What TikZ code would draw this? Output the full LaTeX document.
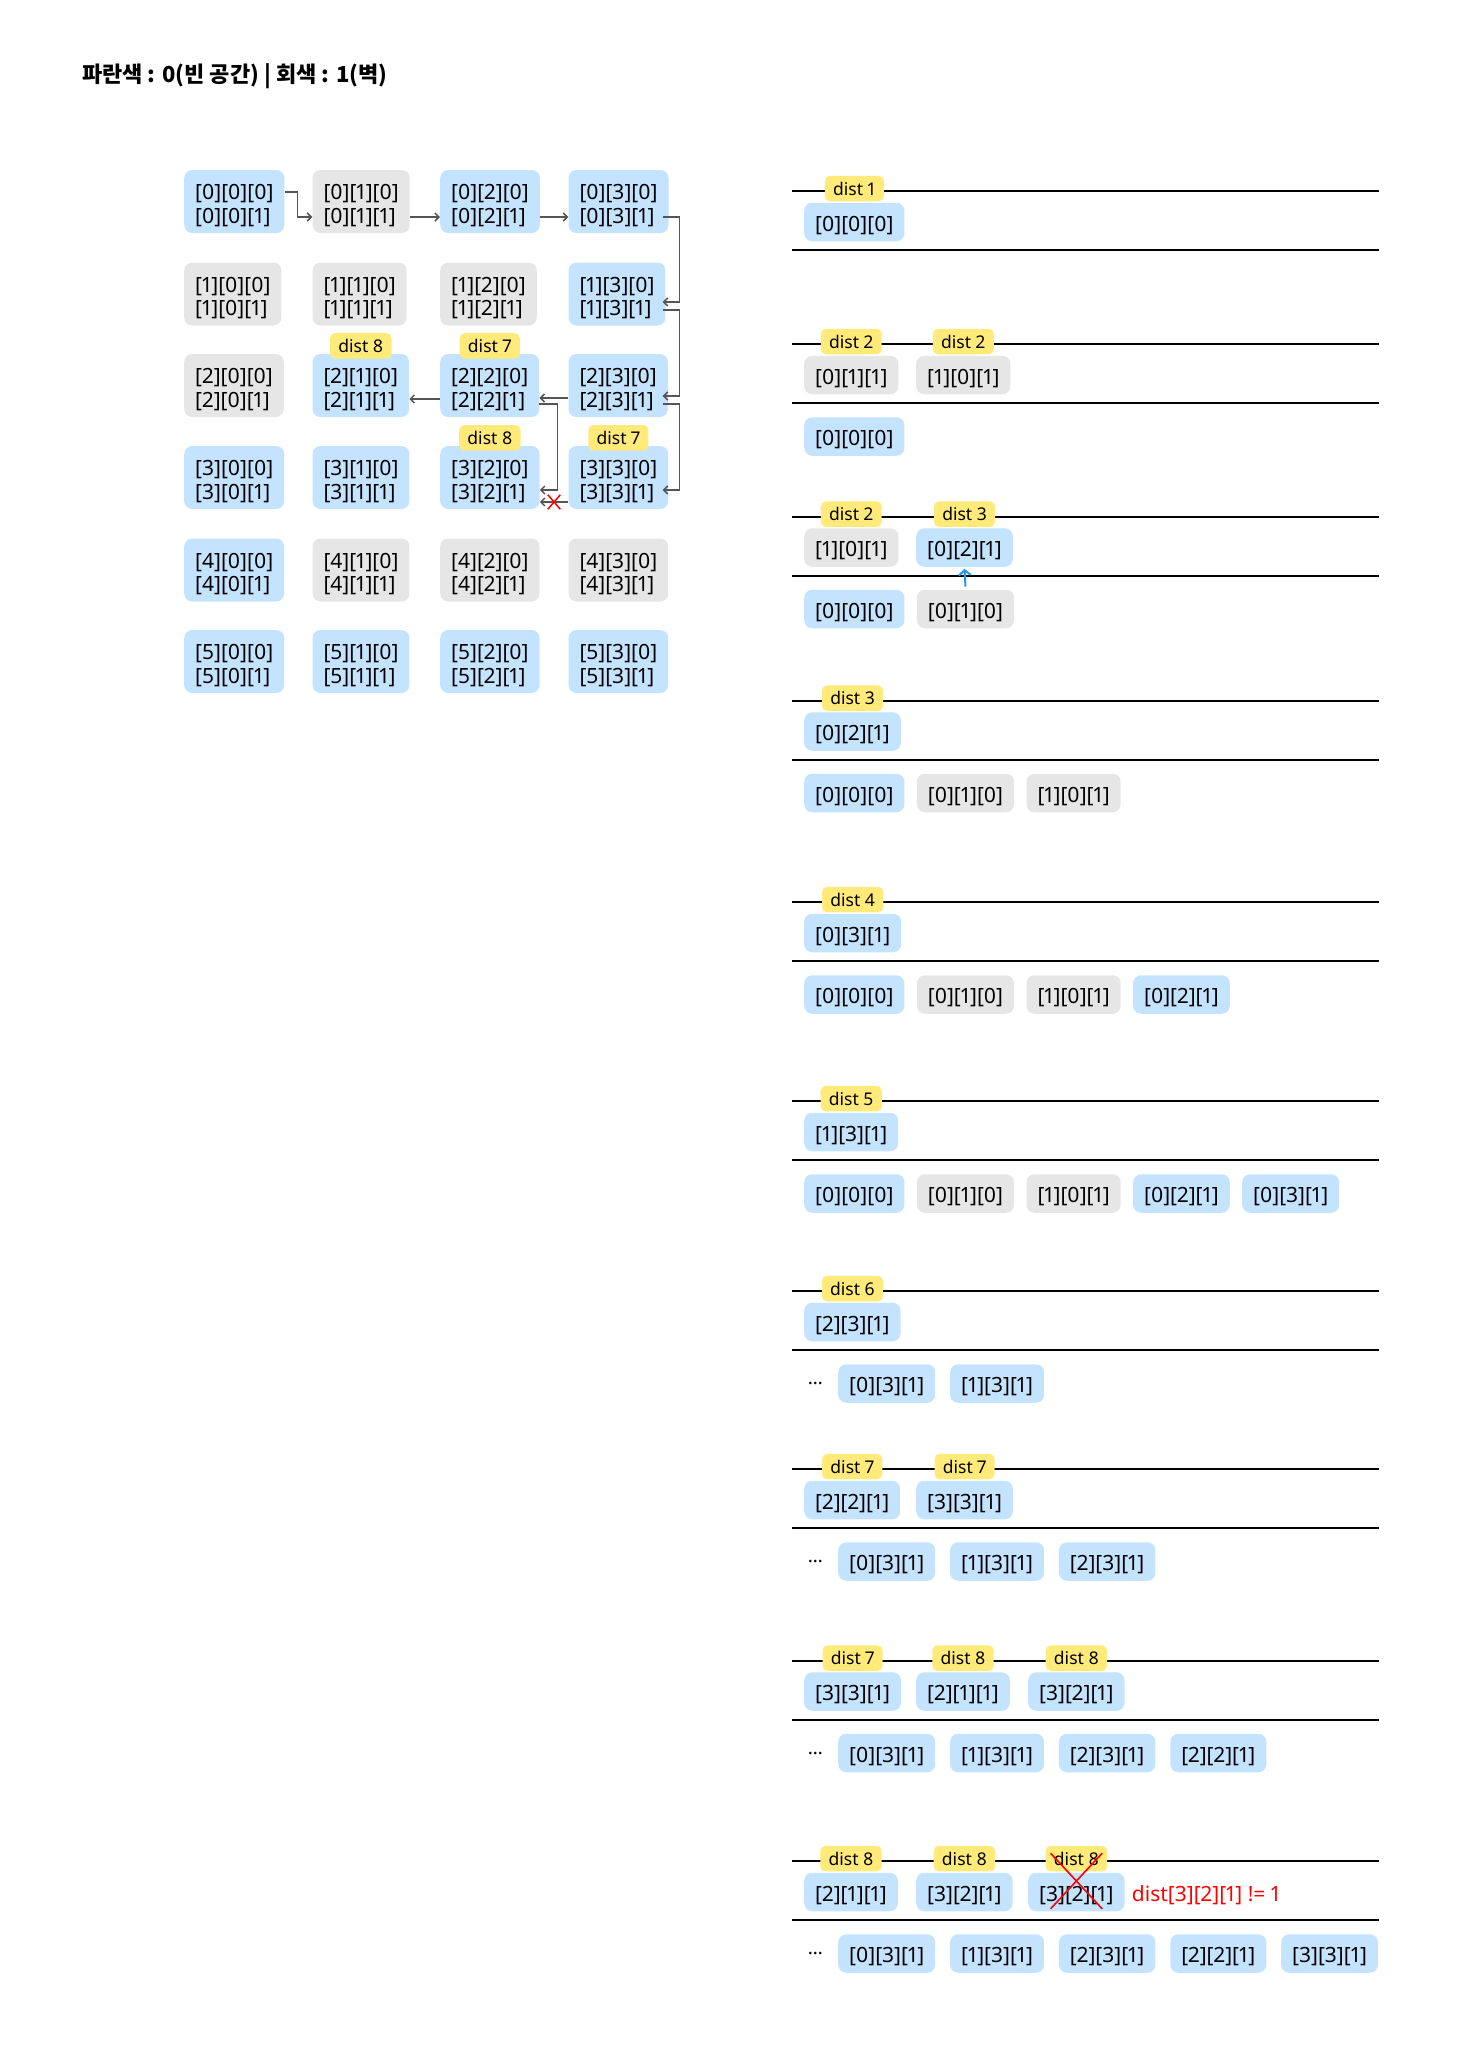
\documentclass[tikz,border=0pt]{standalone}
\usepackage{fontspec}
\setmainfont{Noto Sans}[Numbers=Proportional]
\newfontfamily\krfont{Noto Sans CJK KR}
\usepackage{xcolor}
\definecolor{cblue}{HTML}{C4E3FF}
\definecolor{cgray}{HTML}{E6E6E6}
\definecolor{cyellow}{HTML}{FFEA7A}
\definecolor{cline}{HTML}{555555}
\definecolor{carrow}{HTML}{2196F3}
\usepackage{tikz}
\usetikzlibrary{positioning, arrows.meta, shapes.misc}
\newcommand\cellfont{\fontsize{21}{23.5}\selectfont}
\newcommand\distfont{\fontsize{17.5}{20}\selectfont}
\tikzset{
x=1pt, y=-1pt,
Title/.style={
	anchor=west, inner sep=0pt,
	font=\krfont\bfseries\fontsize{22}{26}\selectfont
},
Cell/.style={
	anchor=west, align=left,
	rounded corners=8pt,
	inner xsep=11pt, inner ysep=0pt,
	minimum height=63pt,
	text height=43.8pt, text depth=0pt,
	font=\cellfont
},
Open/.style={
	Cell,
	fill=cblue
},
Wall/.style={
	Cell,
	fill=cgray
},
Item/.style={
	anchor=west,
	rounded corners=8pt,
	inner xsep=11pt, inner ysep=0pt,
	minimum height=38.5pt,
	text height=18.2pt, text depth=0pt,
	font=\cellfont
},
OpenItem/.style={
	Item,
	fill=cblue
},
WallItem/.style={
	Item,
	fill=cgray
},
Dist/.style={
	rounded corners=5pt,
	fill=cyellow,
	inner xsep=8.3pt, inner ysep=0pt,
	minimum height=25.5pt,
	font=\distfont
},
Dots/.style={
	inner sep=0pt,
	font=\fontsize{19}{20}\selectfont
},
Note/.style={
	inner sep=0pt,
	text height=18.2pt, text depth=0pt,
	text=red,
	font=\cellfont
},
Link/.style={
	draw=cline, line width=1.5pt,
	-{Straight Barb[length=4pt, width=8pt]}
},
Lift/.style={
	draw=carrow, line width=2pt,
	-{Straight Barb[length=5pt, width=12pt]}
},
NoEntry/.style={
	cross out, draw=red, line width=1.5pt,
	minimum width=11pt, minimum height=13pt, inner sep=0pt
},
Rule/.style={
	draw=black, line width=2pt
}
}

\begin{document}
\begin{tikzpicture}
	\useasboundingbox (0,0) rectangle (1470,2070);

	\node[Title] (title) at (82,76) {파란색 : 0(빈 공간) | 회색 : 1(벽)};

	% map, one cell per [row][col], both wall states
	\node[Open] (g00) at (184,201.5) {[0][0][0]\\{}[0][0][1]};
	\node[Wall] (g01) at (312.3,201.5) {[0][1][0]\\{}[0][1][1]};
	\node[Open] (g02) at (440,201.5) {[0][2][0]\\{}[0][2][1]};
	\node[Open] (g03) at (568.3,201.5) {[0][3][0]\\{}[0][3][1]};

	\node[Wall] (g10) at (184,294) {[1][0][0]\\{}[1][0][1]};
	\node[Wall] (g11) at (312.3,294) {[1][1][0]\\{}[1][1][1]};
	\node[Wall] (g12) at (440,294) {[1][2][0]\\{}[1][2][1]};
	\node[Open] (g13) at (568.3,294) {[1][3][0]\\{}[1][3][1]};

	\node[Wall] (g20) at (184,385.5) {[2][0][0]\\{}[2][0][1]};
	\node[Open] (g21) at (312.3,385.5) {[2][1][0]\\{}[2][1][1]};
	\node[Open] (g22) at (440,385.5) {[2][2][0]\\{}[2][2][1]};
	\node[Open] (g23) at (568.3,385.5) {[2][3][0]\\{}[2][3][1]};

	\node[Open] (g30) at (184,477.5) {[3][0][0]\\{}[3][0][1]};
	\node[Open] (g31) at (312.3,477.5) {[3][1][0]\\{}[3][1][1]};
	\node[Open] (g32) at (440,477.5) {[3][2][0]\\{}[3][2][1]};
	\node[Open] (g33) at (568.3,477.5) {[3][3][0]\\{}[3][3][1]};

	\node[Open] (g40) at (184,570) {[4][0][0]\\{}[4][0][1]};
	\node[Wall] (g41) at (312.3,570) {[4][1][0]\\{}[4][1][1]};
	\node[Wall] (g42) at (440,570) {[4][2][0]\\{}[4][2][1]};
	\node[Wall] (g43) at (568.3,570) {[4][3][0]\\{}[4][3][1]};

	\node[Open] (g50) at (184,661.5) {[5][0][0]\\{}[5][0][1]};
	\node[Open] (g51) at (312.3,661.5) {[5][1][0]\\{}[5][1][1]};
	\node[Open] (g52) at (440,661.5) {[5][2][0]\\{}[5][2][1]};
	\node[Open] (g53) at (568.3,661.5) {[5][3][0]\\{}[5][3][1]};

	\node[Dist, above=-5pt of g21] (gd21) {dist 8};
	\node[Dist, above=-5pt of g22] (gd22) {dist 7};
	\node[Dist, above=-5pt of g32] (gd32) {dist 8};
	\node[Dist, above=-5pt of g33] (gd33) {dist 7};

	\coordinate (stub) at ([xshift=-6pt]g03.east);
	\coordinate (rail) at ([xshift=11pt]g03.east);

	\draw[Link] (g00.east |- 0,192) -- ++(13,0) |- (g01.west |- 0,217);
	\draw[Link] (g01.east |- 0,217) -- (g02.west |- 0,217);
	\draw[Link] (g02.east |- 0,217) -- (g03.west |- 0,217);
	\draw[Link] (stub |- 0,217) -| (rail |- 0,260) |- (stub |- 0,302);
	\draw[Link] (stub |- 0,310) -| (rail |- 0,350) |- (stub |- 0,396);
	\draw[Link] (stub |- 0,404) -| (rail |- 0,450) |- (stub |- 0,490);
	\draw[Link] (g23.west |- 0,398) -- (g22.east |- 0,398);
	\draw[Link] (g22.west |- 0,399) -- (g21.east |- 0,399);
	\draw[Link] (g22.east |- 0,404) -- ++(18,0) |- (g32.east |- 0,490);
	\draw[Link] (g33.west |- 0,502) -- node[NoEntry] (blocked) {} (g32.east |- 0,502);

	% queue, step by step
	\draw[Rule] (792,191) -- (1379,191) (792,250) -- (1379,250);
	\node[OpenItem] (cur1a) at (804,222) {[0][0][0]};
	\node[Dist, above=1pt of cur1a] (d1a) {dist 1};

	\draw[Rule] (792,344) -- (1379,344) (792,403) -- (1379,403);
	\node[WallItem] (cur2a) at (804,375) {[0][1][1]};
	\node[WallItem] (cur2b) at (916,375) {[1][0][1]};
	\node[Dist, above=1pt of cur2a] (d2a) {dist 2};
	\node[Dist, above=1pt of cur2b] (d2b) {dist 2};
	\node[OpenItem] (vis2a) at (804,436.5) {[0][0][0]};

	\draw[Rule] (792,516.5) -- (1379,516.5) (792,575.5) -- (1379,575.5);
	\node[WallItem] (cur3a) at (804,547.5) {[1][0][1]};
	\node[OpenItem] (cur3b) at (916,547.5) {[0][2][1]};
	\node[Dist, above=1pt of cur3a] (d3a) {dist 2};
	\node[Dist, above=1pt of cur3b] (d3b) {dist 3};
	\node[OpenItem] (vis3a) at (804,609) {[0][0][0]};
	\node[WallItem, right=12pt of vis3a] (vis3b) {[0][1][0]};
	\draw[Lift] ([yshift=3pt]vis3b.north) -- ([yshift=-2pt]cur3b.south);

	\draw[Rule] (792,700.5) -- (1379,700.5) (792,759.5) -- (1379,759.5);
	\node[OpenItem] (cur4a) at (804,731.5) {[0][2][1]};
	\node[Dist, above=1pt of cur4a] (d4a) {dist 3};
	\node[OpenItem] (vis4a) at (804,793) {[0][0][0]};
	\node[WallItem, right=12pt of vis4a] (vis4b) {[0][1][0]};
	\node[WallItem, right=12pt of vis4b] (vis4c) {[1][0][1]};

	\draw[Rule] (792,902) -- (1379,902) (792,961) -- (1379,961);
	\node[OpenItem] (cur5a) at (804,933) {[0][3][1]};
	\node[Dist, above=1pt of cur5a] (d5a) {dist 4};
	\node[OpenItem] (vis5a) at (804,994.5) {[0][0][0]};
	\node[WallItem, right=12pt of vis5a] (vis5b) {[0][1][0]};
	\node[WallItem, right=12pt of vis5b] (vis5c) {[1][0][1]};
	\node[OpenItem, right=12pt of vis5c] (vis5d) {[0][2][1]};

	\draw[Rule] (792,1101) -- (1379,1101) (792,1160) -- (1379,1160);
	\node[OpenItem] (cur6a) at (804,1132) {[1][3][1]};
	\node[Dist, above=1pt of cur6a] (d6a) {dist 5};
	\node[OpenItem] (vis6a) at (804,1193.5) {[0][0][0]};
	\node[WallItem, right=12pt of vis6a] (vis6b) {[0][1][0]};
	\node[WallItem, right=12pt of vis6b] (vis6c) {[1][0][1]};
	\node[OpenItem, right=12pt of vis6c] (vis6d) {[0][2][1]};
	\node[OpenItem, right=12pt of vis6d] (vis6e) {[0][3][1]};

	\draw[Rule] (792,1291) -- (1379,1291) (792,1350) -- (1379,1350);
	\node[OpenItem] (cur7a) at (804,1322) {[2][3][1]};
	\node[Dist, above=1pt of cur7a] (d7a) {dist 6};
	\node[OpenItem] (vis7a) at (838,1383.5) {[0][3][1]};
	\node[OpenItem, right=14.5pt of vis7a] (vis7b) {[1][3][1]};
	\node[Dots, left=15pt of vis7a] (dots7) {…};

	\draw[Rule] (792,1469) -- (1379,1469) (792,1528) -- (1379,1528);
	\node[OpenItem] (cur8a) at (804,1500) {[2][2][1]};
	\node[OpenItem] (cur8b) at (916,1500) {[3][3][1]};
	\node[Dist, above=1pt of cur8a] (d8a) {dist 7};
	\node[Dist, above=1pt of cur8b] (d8b) {dist 7};
	\node[OpenItem] (vis8a) at (838,1561.5) {[0][3][1]};
	\node[OpenItem, right=14.5pt of vis8a] (vis8b) {[1][3][1]};
	\node[OpenItem, right=14.5pt of vis8b] (vis8c) {[2][3][1]};
	\node[Dots, left=15pt of vis8a] (dots8) {…};

	\draw[Rule] (792,1660.5) -- (1379,1660.5) (792,1719.5) -- (1379,1719.5);
	\node[OpenItem] (cur9a) at (804,1691.5) {[3][3][1]};
	\node[OpenItem] (cur9b) at (916,1691.5) {[2][1][1]};
	\node[OpenItem] (cur9c) at (1028,1691.5) {[3][2][1]};
	\node[Dist, above=1pt of cur9a] (d9a) {dist 7};
	\node[Dist, above=1pt of cur9b] (d9b) {dist 8};
	\node[Dist, above=1pt of cur9c] (d9c) {dist 8};
	\node[OpenItem] (vis9a) at (838,1753) {[0][3][1]};
	\node[OpenItem, right=14.5pt of vis9a] (vis9b) {[1][3][1]};
	\node[OpenItem, right=14.5pt of vis9b] (vis9c) {[2][3][1]};
	\node[OpenItem, right=14.5pt of vis9c] (vis9d) {[2][2][1]};
	\node[Dots, left=15pt of vis9a] (dots9) {…};

	\draw[Rule] (792,1861) -- (1379,1861) (792,1920) -- (1379,1920);
	\node[OpenItem] (cur10a) at (804,1892) {[2][1][1]};
	\node[OpenItem] (cur10b) at (916,1892) {[3][2][1]};
	\node[OpenItem] (cur10c) at (1028,1892) {[3][2][1]};
	\node[Dist, above=1pt of cur10a] (d10a) {dist 8};
	\node[Dist, above=1pt of cur10b] (d10b) {dist 8};
	\node[Dist, above=1pt of cur10c] (d10c) {dist 8};
	\node[cross out, draw=red, line width=1.6pt, minimum width=50pt, minimum height=54pt] (nope) at ([yshift=11pt]cur10c.center) {};
	\node[Note, right=7pt of cur10c] (why) {dist[3][2][1] != 1};
	\node[OpenItem] (vis10a) at (838,1953.5) {[0][3][1]};
	\node[OpenItem, right=14.5pt of vis10a] (vis10b) {[1][3][1]};
	\node[OpenItem, right=14.5pt of vis10b] (vis10c) {[2][3][1]};
	\node[OpenItem, right=14.5pt of vis10c] (vis10d) {[2][2][1]};
	\node[OpenItem, right=14.5pt of vis10d] (vis10e) {[3][3][1]};
	\node[Dots, left=15pt of vis10a] (dots10) {…};
\end{tikzpicture}
\end{document}
